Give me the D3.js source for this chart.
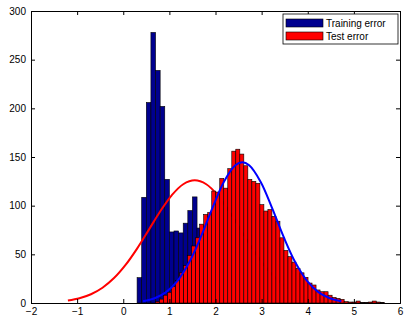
<!DOCTYPE html>
<html>
<head>
<meta charset="utf-8">
<script src="https://cdn.jsdelivr.net/npm/d3@7"></script>
<style>
  body { margin: 0; background: #fff; }
  text { font-family: "Liberation Sans", Arial, sans-serif; font-size: 10px; fill: #000; }
</style>
</head>
<body>
<div id="chart"></div>
<script>
// x ticks and y ticks
const xTicks = [-2, -1, 0, 1, 2, 3, 4, 5, 6];
const yTicks = [0, 50, 100, 150, 200, 250, 300];

// training error histogram (bins of 0.1 starting at 0.3)
const trainStart = 0.3;
const trainWidth = 0.1;
const trainCounts = [26, 108.6, 206, 278, 239, 202, 127, 73, 74, 72, 82, 95, 109, 77];

// test error histogram
const testStart = 0.70;
const testWidth = 0.087;
const testCounts = [
  1.4, 4, 8, 11, 17, 23, 31, 38.5, 49, 58.6,
  67, 81, 91, 93, 115, 114, 128, 118, 138, 156,
  158, 153, 141, 127, 125, 123, 101, 94.5, 96, 89,
  84, 67, 54, 47.6, 42, 35.6, 31, 26.4, 20.5, 18.5,
  13.4, 11.6, 11.6, 8, 5.8, 4.8, 3.8, 1.4, 1, 1,
  2, 0.5, 0.5, 1, 2, 1, 0.5
];

// fitted curves
const redCurveX = [-1.2, -0.95, -0.7, -0.45, -0.2, 0.05, 0.3, 0.55, 0.8, 1.05, 1.3, 1.55,
  1.8, 2.05, 2.3, 2.55, 2.8, 3.05, 3.3, 3.55, 3.8, 4.05, 4.3];
const redCurveY = [2.5, 4.9, 9.0, 15.7, 25.6, 39.1, 55.9, 74.9, 94, 110.6, 122, 126,
  122, 110.6, 94, 74.9, 55.9, 39.1, 25.6, 15.7, 9.0, 4.9, 2.5];
const blueCurveX = [0.43, 0.68, 0.93, 1.18, 1.43, 1.68, 1.93, 2.18, 2.43, 2.58,
  2.73, 2.98, 3.23, 3.48, 3.73, 3.98, 4.23, 4.48, 4.73];
const blueCurveY = [1.9, 4.9, 11.2, 23, 41.8, 67.6, 97.2, 124.4, 141.5, 144.5,
  141.5, 124.4, 97.2, 67.6, 41.8, 23, 11.2, 4.9, 1.9];

const legendItems = [
  { name: 'Training error', color: '#00008f' },
  { name: 'Test error', color: '#ff0000' }
];

const margin = { top: 11, right: 4, bottom: 17, left: 31 };
const width = 404 - margin.left - margin.right;
const height = 320 - margin.top - margin.bottom;

const svg = d3.select('#chart')
  .append('svg')
  .attr('width', 404)
  .attr('height', 320)
  .append('g')
  .attr('transform', `translate(${margin.left},${margin.top})`);

const x = d3.scaleLinear().domain([-2, 6]).range([0, width]);
const y = d3.scaleLinear().domain([0, 300]).range([height, 0]);

svg.append('defs').append('clipPath').attr('id', 'plot-clip')
  .append('rect').attr('width', width).attr('height', height);

const plot = svg.append('g').attr('clip-path', 'url(#plot-clip)');

const drawBars = (counts, start, w, color) => {
  plot.append('g')
    .selectAll('rect')
    .data(counts)
    .enter()
    .append('rect')
    .attr('x', (d, i) => x(start + i * w))
    .attr('width', (d, i) => x(start + (i + 1) * w) - x(start + i * w))
    .attr('y', d => y(d))
    .attr('height', d => y(0) - y(d))
    .attr('fill', color)
    .attr('stroke', '#000')
    .attr('stroke-width', 0.6);
};

const line = d3.line()
  .x(d => x(d[0]))
  .y(d => y(d[1]))
  .curve(d3.curveCatmullRom);

const drawCurve = (xs, ys, color) => {
  plot.append('path')
    .datum(xs.map((v, i) => [v, ys[i]]))
    .attr('d', line)
    .attr('fill', 'none')
    .attr('stroke', color)
    .attr('stroke-width', 2);
};

// draw order as in the picture
drawBars(trainCounts, trainStart, trainWidth, legendItems[0].color);
drawCurve(redCurveX, redCurveY, '#ff0000');
drawBars(testCounts, testStart, testWidth, legendItems[1].color);
drawCurve(blueCurveX, blueCurveY, '#0000ff');

// axes, ticks pointing inward
svg.append('g')
  .attr('transform', `translate(0,${height})`)
  .call(d3.axisBottom(x).tickValues(xTicks).tickSize(-4).tickPadding(5).tickFormat(d3.format('d')))
  .call(g => g.selectAll('text').text(d => d < 0 ? '\u2212' + Math.abs(d) : d));
svg.append('g')
  .call(d3.axisTop(x).tickValues(xTicks).tickSize(-4).tickFormat(''));
svg.append('g')
  .call(d3.axisLeft(y).tickValues(yTicks).tickSize(-4).tickPadding(5));
svg.append('g')
  .attr('transform', `translate(${width},0)`)
  .call(d3.axisRight(y).tickValues(yTicks).tickSize(-4).tickFormat(''));

svg.selectAll('.domain').attr('stroke', '#000');
svg.selectAll('.tick line').attr('stroke', '#000');
svg.selectAll('.tick text').style('font-size', '10px').attr('fill', '#000');

// legend
const legend = svg.append('g').attr('transform', `translate(${252},${3})`);
legend.append('rect')
  .attr('width', 115)
  .attr('height', 30)
  .attr('fill', '#fff')
  .attr('stroke', '#000')
  .attr('stroke-width', 0.8);
const rows = legend.selectAll('.legend-row')
  .data(legendItems)
  .enter()
  .append('g')
  .attr('transform', (d, i) => `translate(3,${5 + i * 13})`);
rows.append('rect')
  .attr('width', 37)
  .attr('height', 8)
  .attr('fill', d => d.color)
  .attr('stroke', '#000')
  .attr('stroke-width', 0.6);
rows.append('text')
  .attr('x', 40)
  .attr('y', 4)
  .attr('dy', '0.35em')
  .text(d => d.name);
</script>
</body>
</html>
